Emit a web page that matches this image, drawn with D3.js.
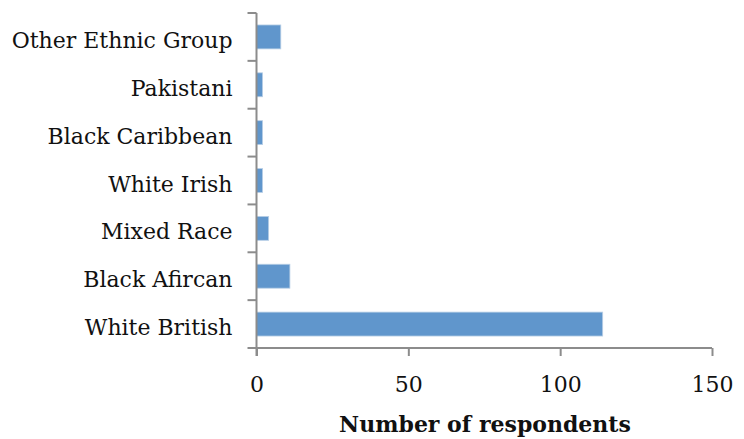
<!DOCTYPE html>
<html>
<head>
<meta charset="utf-8">
<script src="https://cdn.jsdelivr.net/npm/d3@7"></script>
<style>
  html, body { margin: 0; padding: 0; background: #fff; }
  svg { display: block; }
</style>
</head>
<body>
<svg id="chart" width="744" height="439"></svg>
<script>
// Respondents by ethnic group (listed bottom to top)
const categories = ["White British", "Black Afircan", "Mixed Race", "White Irish", "Black Caribbean", "Pakistani", "Other Ethnic Group"];
const values = [114, 11, 4, 2, 2, 2, 8];
const xTicks = [0, 50, 100, 150];
const xTitle = "Number of respondents";

const svg = d3.select("#chart");
const plotLeft = 256.5, plotRight = 712, plotTop = 13, plotBottom = 348;
const fontFamily = "'DejaVu Serif', 'Liberation Serif', serif";

const x = d3.scaleLinear().domain([0, 150]).range([plotLeft, plotRight]);
// Categories listed top to bottom in the plot
const y = d3.scaleBand().domain(categories.slice().reverse()).range([plotTop, plotBottom]).paddingInner(0.5).paddingOuter(0.25);

const data = categories.map((c, i) => ({ c, v: values[i] }));

svg.append("g").selectAll("rect").data(data).join("rect")
  .attr("x", x(0))
  .attr("y", d => y(d.c))
  .attr("width", d => x(d.v) - x(0))
  .attr("height", y.bandwidth())
  .attr("fill", "#6096cc")
  .attr("stroke", "#b9cfe6")
  .attr("stroke-width", 0.8);

const axisColor = "#8c8c8c";

// Category axis
const yAxis = svg.append("g").attr("transform", `translate(${plotLeft},0)`);
yAxis.append("line").attr("x1", 0).attr("x2", 0).attr("y1", plotTop).attr("y2", plotBottom + 8)
  .attr("stroke", axisColor).attr("stroke-width", 2);
const bandStep = (plotBottom - plotTop) / categories.length;
yAxis.selectAll("line.tk").data(d3.range(categories.length + 1)).join("line")
  .attr("class", "tk")
  .attr("x1", -9).attr("x2", 0)
  .attr("y1", i => plotTop + i * bandStep).attr("y2", i => plotTop + i * bandStep)
  .attr("stroke", axisColor).attr("stroke-width", 2);
yAxis.selectAll("text").data(categories).join("text")
  .attr("x", -24)
  .attr("y", d => y(d) + y.bandwidth() / 2)
  .attr("dy", "0.5em")
  .attr("text-anchor", "end")
  .attr("font-family", fontFamily)
  .attr("font-size", 22)
  .attr("fill", "#111")
  .text(d => d);

// Value axis
const xAxis = svg.append("g").attr("transform", `translate(0,${plotBottom})`)
  .call(d3.axisBottom(x).tickValues(xTicks).tickSize(8).tickPadding(20).tickFormat(d3.format("d")));
xAxis.select(".domain").attr("stroke", axisColor).attr("stroke-width", 2)
  .attr("d", `M${plotLeft - 8},0H${plotRight}`);
xAxis.selectAll(".tick line").attr("stroke", axisColor).attr("stroke-width", 2);
xAxis.selectAll(".tick text")
  .attr("font-family", fontFamily).attr("font-size", 22).attr("fill", "#111");

svg.append("text")
  .attr("x", 485).attr("y", 432)
  .attr("text-anchor", "middle")
  .attr("font-family", fontFamily)
  .attr("font-weight", "bold")
  .attr("font-size", 22)
  .attr("fill", "#111")
  .text(xTitle);
</script>
</body>
</html>
